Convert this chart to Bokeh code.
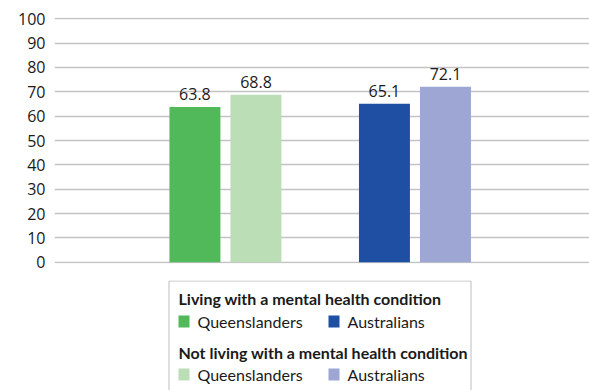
from bokeh.plotting import figure
from bokeh.models import Range1d, ColumnDataSource, FixedTicker
from bokeh.layouts import column
from bokeh.embed import file_html
from bokeh.resources import INLINE
from bokeh.core.properties import value

# ---- data ----
groups = ["Queenslanders", "Australians"]
series = ["Living with a mental health condition", "Not living with a mental health condition"]
living = [63.8, 65.1]
not_living = [68.8, 72.1]
living_colors = ["#52b95a", "#1f4fa2"]
not_living_colors = ["#bcdeb6", "#9ea6d4"]
y_ticks = [0, 10, 20, 30, 40, 50, 60, 70, 80, 90, 100]

FONT = "Open Sans"
LFONT = "Lato"
TXT = "#1a1a1a"

# ---- chart ----
p = figure(width=589, height=280, output_backend="svg", toolbar_location=None,
           x_range=Range1d(-0.902, 1.921), y_range=Range1d(-0.5, 100.5),
           min_border_left=54, min_border_right=0, min_border_top=17, min_border_bottom=17)
p.outline_line_color = None
p.background_fill_color = "white"
p.border_fill_color = "white"
p.xaxis.visible = False
p.xgrid.visible = False
p.ygrid.grid_line_color = "#c3c3c3"
p.ygrid.grid_line_width = 1.6
p.yaxis.ticker = FixedTicker(ticks=y_ticks)
p.yaxis.axis_line_color = None
p.yaxis.major_tick_line_color = None
p.yaxis.minor_tick_line_color = None
p.yaxis.major_tick_out = 0
p.yaxis.major_label_standoff = 9
p.yaxis.major_label_text_font = FONT
p.yaxis.major_label_text_font_size = "16px"
p.yaxis.major_label_text_color = TXT

off = 0.161
bw = 0.269
idx = list(range(len(groups)))
src_l = ColumnDataSource(dict(x=[i - off for i in idx], top=living, color=living_colors,
                              lab=[f"{v:.1f}" for v in living]))
src_n = ColumnDataSource(dict(x=[i + off for i in idx], top=not_living, color=not_living_colors,
                              lab=[f"{v:.1f}" for v in not_living]))
for s in (src_l, src_n):
    p.vbar(x="x", top="top", bottom=0, width=bw, color="color", line_color=None, source=s)
    p.text(x="x", y="top", text="lab", source=s, text_align="center", text_baseline="middle",
           y_offset=-13, text_font=value(FONT), text_font_size="16px", text_color=TXT)

# ---- legend panel ----
lg = figure(width=589, height=110, output_backend="svg", toolbar_location=None,
            x_range=Range1d(54, 589), y_range=Range1d(110, 0),
            min_border=0, min_border_left=54, min_border_right=0, min_border_top=0, min_border_bottom=0)
lg.outline_line_color = None
lg.axis.visible = False
lg.grid.visible = False
lg.background_fill_color = "white"
lg.border_fill_color = "white"

lg.quad(left=[168.5], right=[470.5], top=[0.5], bottom=[140], fill_color=None,
        line_color="#bdbdbd", line_width=1)

title_y = [18, 72]
row_y = [41, 94]
sw_x = [183.5, 333.5]
tx_x = [197, 347]
for k, (t, cols) in enumerate(zip(series, [living_colors, not_living_colors])):
    lg.text(x=[178], y=[title_y[k]], text=[t], text_font=value(LFONT), text_font_style="bold",
            text_font_size="16px", text_color=TXT, text_baseline="middle")
    lg.rect(x=sw_x, y=[row_y[k]] * 2, width=11, height=12, fill_color=cols, line_color=None)
    lg.text(x=tx_x, y=[row_y[k]] * 2, text=groups, text_font=value(LFONT),
            text_font_size="16px", text_color=TXT, text_baseline="middle")

layout = column(p, lg, spacing=0)
open("out.html", "w").write(file_html(layout, INLINE))
